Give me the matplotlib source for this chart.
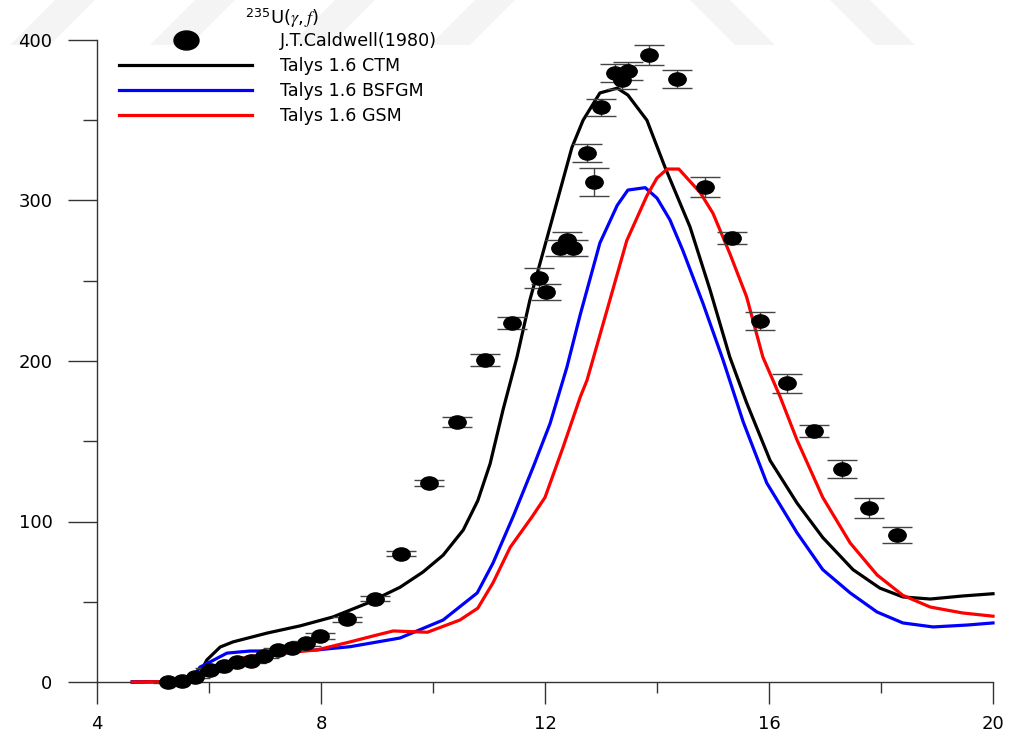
import matplotlib
matplotlib.use("Agg")
import matplotlib.pyplot as plt
import numpy as np
from matplotlib.path import Path
from matplotlib.lines import Line2D
from matplotlib.patches import Polygon

plt.rcParams["font.family"] = ["DejaVu Sans"]
plt.rcParams["mathtext.fontset"] = "custom"
plt.rcParams["mathtext.rm"] = "DejaVu Sans"
plt.rcParams["mathtext.it"] = "STIXGeneral:italic"

# experimental points, Caldwell (1980)
exp_e = [5.27, 5.52, 5.75, 6.02, 6.27, 6.50, 6.75, 6.98, 7.23, 7.48, 7.73, 7.98,
         8.46, 8.96, 9.43, 9.93, 10.43, 10.93, 11.41, 11.89, 12.02, 12.27, 12.39,
         12.50, 12.75, 12.88, 13.00, 13.25, 13.38, 13.48, 13.86, 14.36, 14.86,
         15.34, 15.84, 16.32, 16.80, 17.30, 17.79, 18.29]
exp_s = [0, 0.6, 3, 7.5, 10, 12.5, 13, 16, 20, 21, 24, 28.7,
         39, 52, 80, 124, 162, 200.6, 223.7, 251.7, 243, 270.4, 275.4,
         270.4, 329.6, 311.5, 358, 379.4, 375, 380.7, 390.7, 375.7, 308.4,
         276.6, 225, 186, 156.4, 132.7, 108.4, 91.6]
exp_err = [0.5, 0.5, 0.8, 1, 1, 1, 1, 1, 1.2, 1.2, 1.5, 2,
           1.5, 1.5, 1.5, 2, 3, 3.5, 4, 6, 5, 5, 5,
           5, 5.5, 8.7, 5.5, 5.5, 5.5, 5.5, 6, 5.7, 6,
           3.6, 5.5, 6, 4, 5.8, 6, 5]

# Talys 1.6 CTM
ctm_e = [4.63, 5.66, 5.79, 5.96, 6.2, 6.43, 7.04, 7.63, 8.21, 8.82, 9.41, 9.82,
         10.18, 10.54, 10.80, 11.02, 11.25, 11.5, 11.73, 12.09, 12.48, 12.68,
         12.98, 13.29, 13.48, 13.82, 14.14, 14.59, 14.95, 15.3, 15.6, 16.02,
         16.5, 16.96, 17.5, 17.98, 18.39, 18.88, 19.46, 20.0]
ctm_s = [0, 0.5, 2, 13.7, 21.8, 25, 30.5, 35, 40.5, 49, 59, 68.5,
         79, 94.7, 113, 136, 169.5, 202.5, 238, 283.5, 333, 350,
         367, 370, 365.7, 350, 321, 283.5, 244, 202.5, 174, 138,
         111.5, 90, 70, 58.5, 53, 51.7, 53.6, 55]

# Talys 1.6 BSFGM
bsf_e = [4.63, 5.66, 5.84, 6.02, 6.32, 6.73, 7.32, 7.93, 8.52, 9.41, 10.18,
         10.79, 11.07, 11.43, 11.79, 12.09, 12.39, 12.63, 12.98, 13.29, 13.48,
         13.79, 14.0, 14.23, 14.46, 14.82, 15.18, 15.54, 15.96, 16.5, 16.96,
         17.45, 17.93, 18.39, 18.93, 19.54, 20.0]
bsf_s = [0, 0.5, 9.3, 12.5, 18, 19.3, 19.3, 20, 22, 27.4, 38.6,
         55.5, 74, 103, 134, 161, 196, 229, 273.5, 297, 306.5,
         308, 301.5, 288, 269, 236, 200.6, 162, 124, 93, 70,
         55.5, 43.6, 36.8, 34.3, 35.5, 36.8]

# Talys 1.6 GSM
gsm_e = [4.63, 5.66, 5.79, 6.02, 6.2, 6.43, 6.79, 7.32, 7.93, 8.52, 9.0, 9.29,
         9.9, 10.48, 10.8, 11.07, 11.38, 11.77, 12.0, 12.32, 12.63, 12.75, 13.11,
         13.46, 13.82, 14.0, 14.18, 14.39, 14.77, 15.0, 15.3, 15.6, 15.89,
         16.2, 16.5, 16.96, 17.45, 17.93, 18.39, 18.88, 19.46, 20.0]
gsm_s = [0, 0.5, 2.5, 7.5, 10.6, 13.7, 16.2, 18, 20, 25, 29.3, 31.8,
         31, 38.6, 46, 61.7, 84, 103, 115, 146, 177.6, 188, 232,
         275, 303, 314, 319.6, 319.6, 305, 292, 267, 240, 202.5,
         177.6, 150.8, 115, 86.6, 66.7, 54, 46.7, 43, 41]

W, H = 1013, 734
fig = plt.figure(figsize=(W / 100, H / 100), dpi=100)

# faint watermark stripes at the top
stripe_col = (0.955, 0.955, 0.955)
for x0 in [10, 150, 290, 430]:
    pts = [(x0, 45), (x0 + 40, 45), (x0 + 85, 0), (x0 + 45, 0)]
    fig.patches.append(Polygon([(px / W, 1 - py / H) for px, py in pts],
                               closed=True, transform=fig.transFigure,
                               facecolor=stripe_col, edgecolor="none", zorder=-5))
for x0 in [690, 830]:
    pts = [(x0, 0), (x0 + 40, 0), (x0 + 85, 45), (x0 + 45, 45)]
    fig.patches.append(Polygon([(px / W, 1 - py / H) for px, py in pts],
                               closed=True, transform=fig.transFigure,
                               facecolor=stripe_col, edgecolor="none", zorder=-5))

ax = fig.add_axes([97 / W, 1 - 682 / H, (993 - 97) / W, (682 - 40) / H])
ax.patch.set_alpha(0)

ell = Path.unit_circle()
ell = Path(ell.vertices * np.array([1.0, 0.76]), ell.codes)

ax.plot(ctm_e, ctm_s, color="black", lw=2.3, clip_on=False, zorder=3)
ax.plot(bsf_e, bsf_s, color="#0000ff", lw=2.3, clip_on=False, zorder=3)
ax.plot(gsm_e, gsm_s, color="#ff0000", lw=2.3, clip_on=False, zorder=3)
ax.errorbar(exp_e, exp_s, yerr=exp_err, fmt="none", ecolor="#444444",
            elinewidth=1, capsize=10.5, capthick=1, zorder=4, clip_on=False)
ax.plot(exp_e, exp_s, ls="none", marker=ell, ms=12.5, color="black",
        zorder=5, clip_on=False)

ax.set_xlim(4, 20)
ax.set_ylim(0, 400)
ax.set_xticks([4, 8, 12, 16, 20])
ax.set_xticks([6, 10, 14, 18], minor=True)
ax.set_yticks([0, 100, 200, 300, 400])
ax.set_yticks([50, 150, 250, 350], minor=True)
for s in ["top", "right"]:
    ax.spines[s].set_visible(False)
for s in ["left", "bottom"]:
    ax.spines[s].set_color("#333333")
    ax.spines[s].set_linewidth(1)
ax.tick_params(axis="y", which="major", length=21, width=1, color="#333333",
               pad=11, labelsize=13)
ax.tick_params(axis="y", which="minor", length=10, width=1, color="#333333")
ax.tick_params(axis="x", which="major", length=16, width=1, color="#333333",
               pad=8, labelsize=13)
ax.tick_params(axis="x", which="minor", length=8, width=1, color="#333333")

handles = [
    Line2D([], [], ls="none", marker=ell, ms=18, color="black"),
    Line2D([], [], color="black", lw=2.3),
    Line2D([], [], color="#0000ff", lw=2.3),
    Line2D([], [], color="#ff0000", lw=2.3),
]
labels = ["J.T.Caldwell(1980)", "Talys 1.6 CTM", "Talys 1.6 BSFGM", "Talys 1.6 GSM"]
ax.legend(handles, labels, loc="upper left", bbox_to_anchor=(119 / W, 1 - 32 / H),
          bbox_transform=fig.transFigure, frameon=False, fontsize=12.6,
          handlelength=7.6, handletextpad=1.6, labelspacing=0.4, borderpad=0,
          borderaxespad=0)

fig.text(245 / W, 1 - 24 / H, r"$^{\mathrm{235}}\mathrm{U}(\gamma,f)$",
         fontsize=13, ha="left", va="baseline")

fig.savefig("out.png", dpi=100)
